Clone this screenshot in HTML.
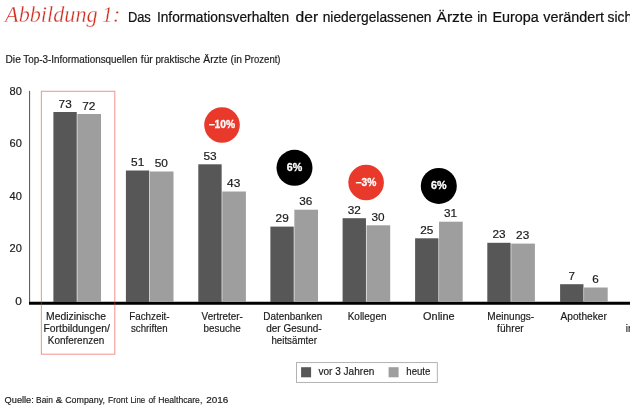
<!DOCTYPE html>
<html lang="de"><head><meta charset="utf-8"><title>Abbildung 1</title>
<style>
html,body{margin:0;padding:0;background:#fff;}
body{width:630px;height:412px;overflow:hidden;}
svg{display:block;font-family:"Liberation Sans", sans-serif;}
</style></head><body>
<svg width="630" height="412" viewBox="0 0 630 412">
<rect width="630" height="412" fill="#fff"/>
<text y="22.1" font-size="22.3" fill="#cf3024" font-weight="normal" font-style="italic" font-family='"Liberation Serif", serif' stroke="#fff" stroke-width="0.3"><tspan x="5.1" textLength="92.5" lengthAdjust="spacingAndGlyphs">Abbildung</tspan> <tspan x="102.1" textLength="18.0" lengthAdjust="spacingAndGlyphs">1:</tspan></text>
<text y="21.6" font-size="14.7" fill="#111" font-weight="normal" stroke="#111" stroke-width="0.22"><tspan x="127.9" textLength="22.9" lengthAdjust="spacingAndGlyphs">Das</tspan> <tspan x="156.9" textLength="132.2" lengthAdjust="spacingAndGlyphs">Informationsverhalten</tspan> <tspan x="295.5" textLength="22.6" lengthAdjust="spacingAndGlyphs">der</tspan> <tspan x="322.7" textLength="108.8" lengthAdjust="spacingAndGlyphs">niedergelassenen</tspan> <tspan x="436.6" textLength="36.2" lengthAdjust="spacingAndGlyphs">Ärzte</tspan> <tspan x="477.2" textLength="10.1" lengthAdjust="spacingAndGlyphs">in</tspan> <tspan x="492.5" textLength="46.3" lengthAdjust="spacingAndGlyphs">Europa</tspan> <tspan x="543.3" textLength="60.7" lengthAdjust="spacingAndGlyphs">verändert</tspan> <tspan x="607.6" textLength="24.5" lengthAdjust="spacingAndGlyphs">sich</tspan></text>
<text y="63.2" font-size="10.8" fill="#1a1a1a" font-weight="normal" stroke="#1a1a1a" stroke-width="0.18"><tspan x="5.5" textLength="15.3" lengthAdjust="spacingAndGlyphs">Die</tspan> <tspan x="23.3" textLength="114.1" lengthAdjust="spacingAndGlyphs">Top-3-Informationsquellen</tspan> <tspan x="140.8" textLength="12.0" lengthAdjust="spacingAndGlyphs">für</tspan> <tspan x="155.4" textLength="44.7" lengthAdjust="spacingAndGlyphs">praktische</tspan> <tspan x="203.3" textLength="24.1" lengthAdjust="spacingAndGlyphs">Ärzte</tspan> <tspan x="230.5" textLength="11.4" lengthAdjust="spacingAndGlyphs">(in</tspan> <tspan x="244.5" textLength="36.0" lengthAdjust="spacingAndGlyphs">Prozent)</tspan></text>
<text y="403.2" font-size="9.9" fill="#1a1a1a" font-weight="normal" stroke="#1a1a1a" stroke-width="0.18"><tspan x="4.6" textLength="29.2" lengthAdjust="spacingAndGlyphs">Quelle:</tspan> <tspan x="36.1" textLength="16.8" lengthAdjust="spacingAndGlyphs">Bain</tspan> <tspan x="55.7" textLength="6.7" lengthAdjust="spacingAndGlyphs">&amp;</tspan> <tspan x="65.2" textLength="39.7" lengthAdjust="spacingAndGlyphs">Company,</tspan> <tspan x="108.1" textLength="19.7" lengthAdjust="spacingAndGlyphs">Front</tspan> <tspan x="130.4" textLength="14.8" lengthAdjust="spacingAndGlyphs">Line</tspan> <tspan x="148.4" textLength="7.0" lengthAdjust="spacingAndGlyphs">of</tspan> <tspan x="158.3" textLength="44.0" lengthAdjust="spacingAndGlyphs">Healthcare,</tspan> <tspan x="206.2" textLength="22.1" lengthAdjust="spacingAndGlyphs">2016</tspan></text>
<rect x="29.1" y="90.9" width="1" height="211" fill="#505050"/>
<rect x="29" y="301.75" width="601" height="3" fill="#000"/>
<text y="95.0" font-size="10.2" fill="#1a1a1a" font-weight="normal" stroke="#1a1a1a" stroke-width="0.18"><tspan x="9.5" textLength="12.3" lengthAdjust="spacingAndGlyphs">80</tspan></text>
<text y="147.3" font-size="10.2" fill="#1a1a1a" font-weight="normal" stroke="#1a1a1a" stroke-width="0.18"><tspan x="9.5" textLength="12.3" lengthAdjust="spacingAndGlyphs">60</tspan></text>
<text y="199.8" font-size="10.2" fill="#1a1a1a" font-weight="normal" stroke="#1a1a1a" stroke-width="0.18"><tspan x="9.5" textLength="12.3" lengthAdjust="spacingAndGlyphs">40</tspan></text>
<text y="252.2" font-size="10.2" fill="#1a1a1a" font-weight="normal" stroke="#1a1a1a" stroke-width="0.18"><tspan x="9.5" textLength="12.3" lengthAdjust="spacingAndGlyphs">20</tspan></text>
<text y="304.5" font-size="10.2" fill="#1a1a1a" font-weight="normal" stroke="#1a1a1a" stroke-width="0.18"><tspan x="15.2" textLength="6.6" lengthAdjust="spacingAndGlyphs">0</tspan></text>
<rect x="41.4" y="91.3" width="73.4" height="262.9" fill="none" stroke="#e8392b" stroke-width="1.1" opacity="0.5"/>
<rect x="53.4" y="112.0" width="23.35" height="190.0" fill="#575757"/>
<rect x="77.35" y="114.0" width="23.650000000000002" height="188.0" fill="#9e9e9e"/>
<text y="107.5" font-size="10.5" fill="#1a1a1a" font-weight="normal" stroke="#1a1a1a" stroke-width="0.18"><tspan x="58.6" textLength="13.1" lengthAdjust="spacingAndGlyphs">73</tspan></text>
<text y="109.5" font-size="10.5" fill="#1a1a1a" font-weight="normal" stroke="#1a1a1a" stroke-width="0.18"><tspan x="82.2" textLength="13.2" lengthAdjust="spacingAndGlyphs">72</tspan></text>
<rect x="125.9" y="170.5" width="23.35" height="131.5" fill="#575757"/>
<rect x="149.85" y="171.5" width="23.650000000000002" height="130.5" fill="#9e9e9e"/>
<text y="166.0" font-size="10.5" fill="#1a1a1a" font-weight="normal" stroke="#1a1a1a" stroke-width="0.18"><tspan x="131.1" textLength="13.2" lengthAdjust="spacingAndGlyphs">51</tspan></text>
<text y="167.0" font-size="10.5" fill="#1a1a1a" font-weight="normal" stroke="#1a1a1a" stroke-width="0.18"><tspan x="154.7" textLength="13.2" lengthAdjust="spacingAndGlyphs">50</tspan></text>
<rect x="198.3" y="164.3" width="23.35" height="137.7" fill="#575757"/>
<rect x="222.25" y="191.5" width="23.650000000000002" height="110.5" fill="#9e9e9e"/>
<text y="159.8" font-size="10.5" fill="#1a1a1a" font-weight="normal" stroke="#1a1a1a" stroke-width="0.18"><tspan x="203.5" textLength="13.2" lengthAdjust="spacingAndGlyphs">53</tspan></text>
<text y="187.0" font-size="10.5" fill="#1a1a1a" font-weight="normal" stroke="#1a1a1a" stroke-width="0.18"><tspan x="227.1" textLength="13.2" lengthAdjust="spacingAndGlyphs">43</tspan></text>
<rect x="270.4" y="226.6" width="23.35" height="75.4" fill="#575757"/>
<rect x="294.35" y="209.7" width="23.650000000000002" height="92.3" fill="#9e9e9e"/>
<text y="222.1" font-size="10.5" fill="#1a1a1a" font-weight="normal" stroke="#1a1a1a" stroke-width="0.18"><tspan x="275.6" textLength="13.1" lengthAdjust="spacingAndGlyphs">29</tspan></text>
<text y="205.2" font-size="10.5" fill="#1a1a1a" font-weight="normal" stroke="#1a1a1a" stroke-width="0.18"><tspan x="299.2" textLength="13.1" lengthAdjust="spacingAndGlyphs">36</tspan></text>
<rect x="342.6" y="218.2" width="23.35" height="83.8" fill="#575757"/>
<rect x="366.55" y="225.3" width="23.650000000000002" height="76.7" fill="#9e9e9e"/>
<text y="213.7" font-size="10.5" fill="#1a1a1a" font-weight="normal" stroke="#1a1a1a" stroke-width="0.18"><tspan x="347.8" textLength="13.1" lengthAdjust="spacingAndGlyphs">32</tspan></text>
<text y="220.8" font-size="10.5" fill="#1a1a1a" font-weight="normal" stroke="#1a1a1a" stroke-width="0.18"><tspan x="371.4" textLength="13.1" lengthAdjust="spacingAndGlyphs">30</tspan></text>
<rect x="415.1" y="238.3" width="23.35" height="63.7" fill="#575757"/>
<rect x="439.05" y="221.7" width="23.650000000000002" height="80.3" fill="#9e9e9e"/>
<text y="233.8" font-size="10.5" fill="#1a1a1a" font-weight="normal" stroke="#1a1a1a" stroke-width="0.18"><tspan x="420.3" textLength="13.1" lengthAdjust="spacingAndGlyphs">25</tspan></text>
<text y="217.2" font-size="10.5" fill="#1a1a1a" font-weight="normal" stroke="#1a1a1a" stroke-width="0.18"><tspan x="443.9" textLength="13.1" lengthAdjust="spacingAndGlyphs">31</tspan></text>
<rect x="487.3" y="242.8" width="23.35" height="59.2" fill="#575757"/>
<rect x="511.25" y="243.6" width="23.650000000000002" height="58.4" fill="#9e9e9e"/>
<text y="238.3" font-size="10.5" fill="#1a1a1a" font-weight="normal" stroke="#1a1a1a" stroke-width="0.18"><tspan x="492.5" textLength="13.1" lengthAdjust="spacingAndGlyphs">23</tspan></text>
<text y="239.1" font-size="10.5" fill="#1a1a1a" font-weight="normal" stroke="#1a1a1a" stroke-width="0.18"><tspan x="516.1" textLength="13.1" lengthAdjust="spacingAndGlyphs">23</tspan></text>
<rect x="560.1" y="284.2" width="23.35" height="17.8" fill="#575757"/>
<rect x="584.05" y="287.5" width="23.650000000000002" height="14.5" fill="#9e9e9e"/>
<text y="279.7" font-size="10.5" fill="#1a1a1a" font-weight="normal" stroke="#1a1a1a" stroke-width="0.18"><tspan x="568.6" textLength="6.5" lengthAdjust="spacingAndGlyphs">7</tspan></text>
<text y="283.0" font-size="10.5" fill="#1a1a1a" font-weight="normal" stroke="#1a1a1a" stroke-width="0.18"><tspan x="592.2" textLength="6.5" lengthAdjust="spacingAndGlyphs">6</tspan></text>
<circle cx="222" cy="125" r="17.8" fill="#e8392b"/>
<text y="128.3" font-size="10.5" fill="#fff" font-weight="bold" stroke="#fff" stroke-width="0.3"><tspan x="208.9" textLength="26.2" lengthAdjust="spacingAndGlyphs">–10%</tspan></text>
<circle cx="294.5" cy="167.8" r="18.0" fill="#000"/>
<text y="171.1" font-size="10.5" fill="#fff" font-weight="bold" stroke="#fff" stroke-width="0.3"><tspan x="286.7" textLength="15.5" lengthAdjust="spacingAndGlyphs">6%</tspan></text>
<circle cx="366.1" cy="182.5" r="17.8" fill="#e8392b"/>
<text y="185.8" font-size="10.5" fill="#fff" font-weight="bold" stroke="#fff" stroke-width="0.3"><tspan x="355.8" textLength="20.5" lengthAdjust="spacingAndGlyphs">–3%</tspan></text>
<circle cx="438.8" cy="185.9" r="18.0" fill="#000"/>
<text y="189.2" font-size="10.5" fill="#fff" font-weight="bold" stroke="#fff" stroke-width="0.3"><tspan x="431.0" textLength="15.5" lengthAdjust="spacingAndGlyphs">6%</tspan></text>
<text y="319.8" font-size="10.8" fill="#1a1a1a" font-weight="normal" stroke="#1a1a1a" stroke-width="0.18"><tspan x="46.0" y="319.8" textLength="60.0" lengthAdjust="spacingAndGlyphs">Medizinische</tspan> <tspan x="43.5" y="331.9" textLength="66.3" lengthAdjust="spacingAndGlyphs">Fortbildungen/</tspan> <tspan x="47.8" y="343.9" textLength="56.4" lengthAdjust="spacingAndGlyphs">Konferenzen</tspan></text>
<text y="319.8" font-size="10.8" fill="#1a1a1a" font-weight="normal" stroke="#1a1a1a" stroke-width="0.18"><tspan x="129.2" y="319.8" textLength="40.4" lengthAdjust="spacingAndGlyphs">Fachzeit-</tspan> <tspan x="131.0" y="331.9" textLength="36.6" lengthAdjust="spacingAndGlyphs">schriften</tspan></text>
<text y="319.8" font-size="10.8" fill="#1a1a1a" font-weight="normal" stroke="#1a1a1a" stroke-width="0.18"><tspan x="201.6" y="319.8" textLength="41.2" lengthAdjust="spacingAndGlyphs">Vertreter-</tspan> <tspan x="203.6" y="331.9" textLength="37.2" lengthAdjust="spacingAndGlyphs">besuche</tspan></text>
<text y="319.8" font-size="10.8" fill="#1a1a1a" font-weight="normal" stroke="#1a1a1a" stroke-width="0.18"><tspan x="263.3" y="319.8" textLength="58.9" lengthAdjust="spacingAndGlyphs">Datenbanken</tspan> <tspan x="266.3" y="331.9" textLength="55.2" lengthAdjust="spacingAndGlyphs">der Gesund-</tspan> <tspan x="271.4" y="343.9" textLength="45.5" lengthAdjust="spacingAndGlyphs">heitsämter</tspan></text>
<text y="319.8" font-size="10.8" fill="#1a1a1a" font-weight="normal" stroke="#1a1a1a" stroke-width="0.18"><tspan x="347.7" y="319.8" textLength="38.8" lengthAdjust="spacingAndGlyphs">Kollegen</tspan></text>
<text y="319.8" font-size="10.8" fill="#1a1a1a" font-weight="normal" stroke="#1a1a1a" stroke-width="0.18"><tspan x="423.1" y="319.8" textLength="31.5" lengthAdjust="spacingAndGlyphs">Online</tspan></text>
<text y="319.8" font-size="10.8" fill="#1a1a1a" font-weight="normal" stroke="#1a1a1a" stroke-width="0.18"><tspan x="487.3" y="319.8" textLength="46.9" lengthAdjust="spacingAndGlyphs">Meinungs-</tspan> <tspan x="497.1" y="331.9" textLength="26.6" lengthAdjust="spacingAndGlyphs">führer</tspan></text>
<text y="319.8" font-size="10.8" fill="#1a1a1a" font-weight="normal" stroke="#1a1a1a" stroke-width="0.18"><tspan x="560.5" y="319.8" textLength="46.3" lengthAdjust="spacingAndGlyphs">Apotheker</tspan></text>
<text y="331.9" font-size="10.8" fill="#1a1a1a" font-weight="normal" stroke="#1a1a1a" stroke-width="0.18"><tspan x="625.7" textLength="24.9" lengthAdjust="spacingAndGlyphs">in der</tspan></text>
<rect x="296.5" y="362.6" width="140.8" height="19.8" fill="#fff" stroke="#a6a6a6" stroke-width="0.85"/>
<rect x="301.1" y="367.2" width="10" height="10.1" fill="#575757"/>
<rect x="388.6" y="367.2" width="10" height="10.1" fill="#9e9e9e"/>
<text y="375.3" font-size="10.5" fill="#1a1a1a" font-weight="normal" stroke="#1a1a1a" stroke-width="0.18"><tspan x="318.5" textLength="55.8" lengthAdjust="spacingAndGlyphs">vor 3 Jahren</tspan></text>
<text y="375.3" font-size="10.5" fill="#1a1a1a" font-weight="normal" stroke="#1a1a1a" stroke-width="0.18"><tspan x="406.3" textLength="24.1" lengthAdjust="spacingAndGlyphs">heute</tspan></text>
</svg>
</body></html>
